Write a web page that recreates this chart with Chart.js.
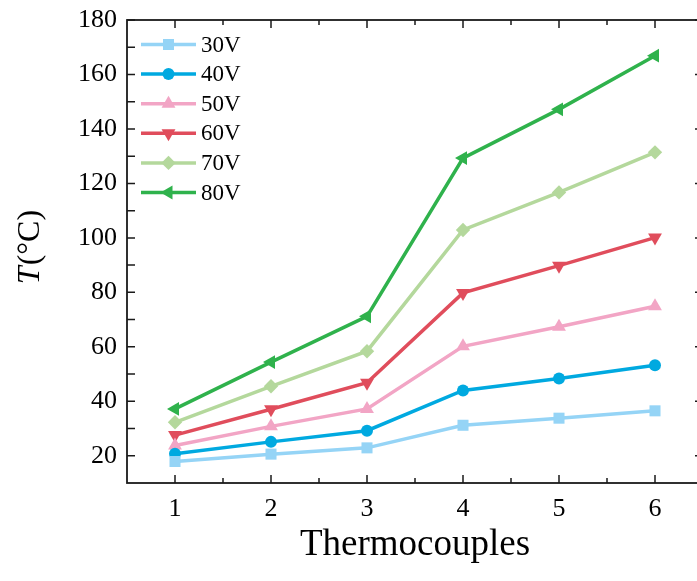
<!DOCTYPE html>
<html><head><meta charset="utf-8">
<script src="https://cdn.jsdelivr.net/npm/chart.js@4.4.0/dist/chart.umd.min.js"></script>
<style>
html,body{margin:0;padding:0;overflow:hidden;background:#fff;}
#wrap{position:absolute;left:0;top:0;width:720px;height:581px;}
</style></head><body>
<div id="wrap"><canvas id="c"></canvas></div>
<script>
// ---- data ----
const categories = [1, 2, 3, 4, 5, 6];
const seriesNames = ['30V', '40V', '50V', '60V', '70V', '80V'];
const v30 = [17.9, 20.6, 22.9, 31.2, 33.8, 36.5];
const v40 = [20.7, 25.1, 29.2, 44.0, 48.4, 53.2];
const v50 = [23.8, 30.8, 37.2, 60.2, 67.4, 74.9];
const v60 = [27.6, 37.1, 46.8, 79.8, 89.8, 100.1];
const v70 = [32.3, 45.5, 58.4, 102.9, 116.7, 131.4];
const v80 = [37.2, 54.4, 71.2, 129.3, 147.2, 166.9];
const xTicks = [1, 2, 3, 4, 5, 6];
const yTicks = [20, 40, 60, 80, 100, 120, 140, 160, 180];
const xTitle = 'Thermocouples';
const yTitleItalic = 'T';
const yTitleRest = '(°C)';

// ---- styles ----
const seriesValues = [v30, v40, v50, v60, v70, v80];
const colors = ['#95D4F6', '#00A9E0', '#F2A5C5', '#E04D5C', '#B4D89C', '#2FB24C'];
const markers = [
  {pointStyle: 'rect', radius: 7.8, rotation: 0},
  {pointStyle: 'circle', radius: 6, rotation: 0},
  {pointStyle: 'triangle', radius: 8, rotation: 0},
  {pointStyle: 'triangle', radius: 8, rotation: 180},
  {pointStyle: 'rectRot', radius: 7.2, rotation: 0},
  {pointStyle: 'triangle', radius: 8, rotation: -90}
];
const FONT = '"Liberation Serif", "Times New Roman", serif';
const AXIS_COLOR = '#1a1a1a';

const datasets = seriesNames.map((name, i) => ({
  label: name,
  data: categories.map((c, j) => ({x: c, y: seriesValues[i][j]})),
  borderColor: colors[i],
  backgroundColor: colors[i],
  borderWidth: 3.5,
  pointStyle: markers[i].pointStyle,
  pointRadius: markers[i].radius,
  pointHoverRadius: markers[i].radius,
  pointRotation: markers[i].rotation,
  pointBorderWidth: 0,
  pointBackgroundColor: colors[i],
  tension: 0
}));

const framePlugin = {
  id: 'frame',
  afterDatasetsDraw(chart) {
    const ctx = chart.ctx;
    const {left, right, top, bottom} = chart.chartArea;
    const xs = chart.scales.x, ys = chart.scales.y;
    ctx.save();
    ctx.strokeStyle = AXIS_COLOR;
    ctx.lineWidth = 1.8;
    ctx.strokeRect(left, top, right - left, bottom - top);
    const MAJ = 8, MIN = 5;
    ctx.lineWidth = 1.5;
    ctx.beginPath();
    xTicks.forEach(v => {
      const p = xs.getPixelForValue(v);
      ctx.moveTo(p, bottom); ctx.lineTo(p, bottom - MAJ);
      ctx.moveTo(p, top); ctx.lineTo(p, top + MAJ);
      if (v < xTicks[xTicks.length - 1]) {
        const m = xs.getPixelForValue(v + 0.5);
        ctx.moveTo(m, bottom); ctx.lineTo(m, bottom - MIN);
        ctx.moveTo(m, top); ctx.lineTo(m, top + MIN);
      }
    });
    yTicks.forEach(v => {
      const p = ys.getPixelForValue(v);
      ctx.moveTo(left, p); ctx.lineTo(left + MAJ, p);
      ctx.moveTo(right, p); ctx.lineTo(right - MAJ, p);
      const m = ys.getPixelForValue(v - 10);
      if (v - 10 > ys.min) {
        ctx.moveTo(left, m); ctx.lineTo(left + MAJ, m);
        ctx.moveTo(right, m); ctx.lineTo(right - MIN, m);
      }
    });
    ctx.stroke();
    ctx.restore();
  },
  afterDraw(chart) {
    const ctx = chart.ctx;
    const {top, bottom} = chart.chartArea;
    // y title
    ctx.save();
    ctx.translate(31, (top + bottom) / 2 - 4);
    ctx.rotate(-Math.PI / 2);
    ctx.fillStyle = '#000';
    ctx.textBaseline = 'middle';
    ctx.font = 'italic 32px ' + FONT;
    const w1 = ctx.measureText(yTitleItalic).width;
    ctx.font = '32px ' + FONT;
    const w2 = ctx.measureText(yTitleRest).width;
    let x0 = -(w1 + w2) / 2;
    ctx.font = 'italic 32px ' + FONT;
    ctx.textAlign = 'left';
    ctx.fillText(yTitleItalic, x0, 0);
    ctx.font = '32px ' + FONT;
    ctx.fillText(yTitleRest, x0 + w1 + 1, 0);
    ctx.restore();
    // legend
    ctx.save();
    chart.data.datasets.forEach((ds, i) => {
      const y = 44.5 + i * 29.6;
      ctx.strokeStyle = ds.borderColor;
      ctx.fillStyle = ds.borderColor;
      ctx.lineWidth = 3.5;
      ctx.beginPath();
      ctx.moveTo(141, y); ctx.lineTo(196, y);
      ctx.stroke();
      Chart.helpers.drawPoint(ctx, {pointStyle: ds.pointStyle, rotation: ds.pointRotation, radius: ds.pointRadius, borderWidth: 0}, 168.5, y);
      ctx.fillStyle = '#000';
      ctx.font = '23px ' + FONT;
      ctx.textAlign = 'left';
      ctx.textBaseline = 'middle';
      ctx.fillText(ds.label, 201, y + 1);
    });
    ctx.restore();
  }
};

new Chart(document.getElementById('c'), {
  type: 'line',
  data: {datasets},
  options: {
    responsive: true,
    maintainAspectRatio: false,
    animation: false,
    events: [],
    layout: {padding: {left: 0, top: 20, right: 17, bottom: 0}},
    plugins: {legend: {display: false}, tooltip: {enabled: false}},
    scales: {
      x: {
        type: 'linear', position: 'bottom', min: 0.5, max: 6.5,
        afterBuildTicks: s => { s.ticks = xTicks.map(v => ({value: v})); },
        afterFit: s => { s.height = 98; s.paddingLeft = 0; s.paddingRight = 0; },
        grid: {display: false, drawTicks: false},
        border: {display: false},
        ticks: {color: '#000', font: {family: FONT, size: 26}, padding: 11, maxRotation: 0,
                callback: v => String(v)},
        title: {display: true, text: xTitle, color: '#000', font: {family: FONT, size: 37},
                padding: {top: 0, bottom: 14}}
      },
      y: {
        type: 'linear', position: 'left', min: 10, max: 180,
        afterBuildTicks: s => { s.ticks = yTicks.map(v => ({value: v})); },
        afterFit: s => { s.width = 127; s.paddingTop = 0; s.paddingBottom = 0; },
        grid: {display: false, drawTicks: false},
        border: {display: false},
        ticks: {color: '#000', font: {family: FONT, size: 26}, padding: 10,
                callback: v => String(v)}
      }
    }
  },
  plugins: [framePlugin]
});
</script>
</body></html>
